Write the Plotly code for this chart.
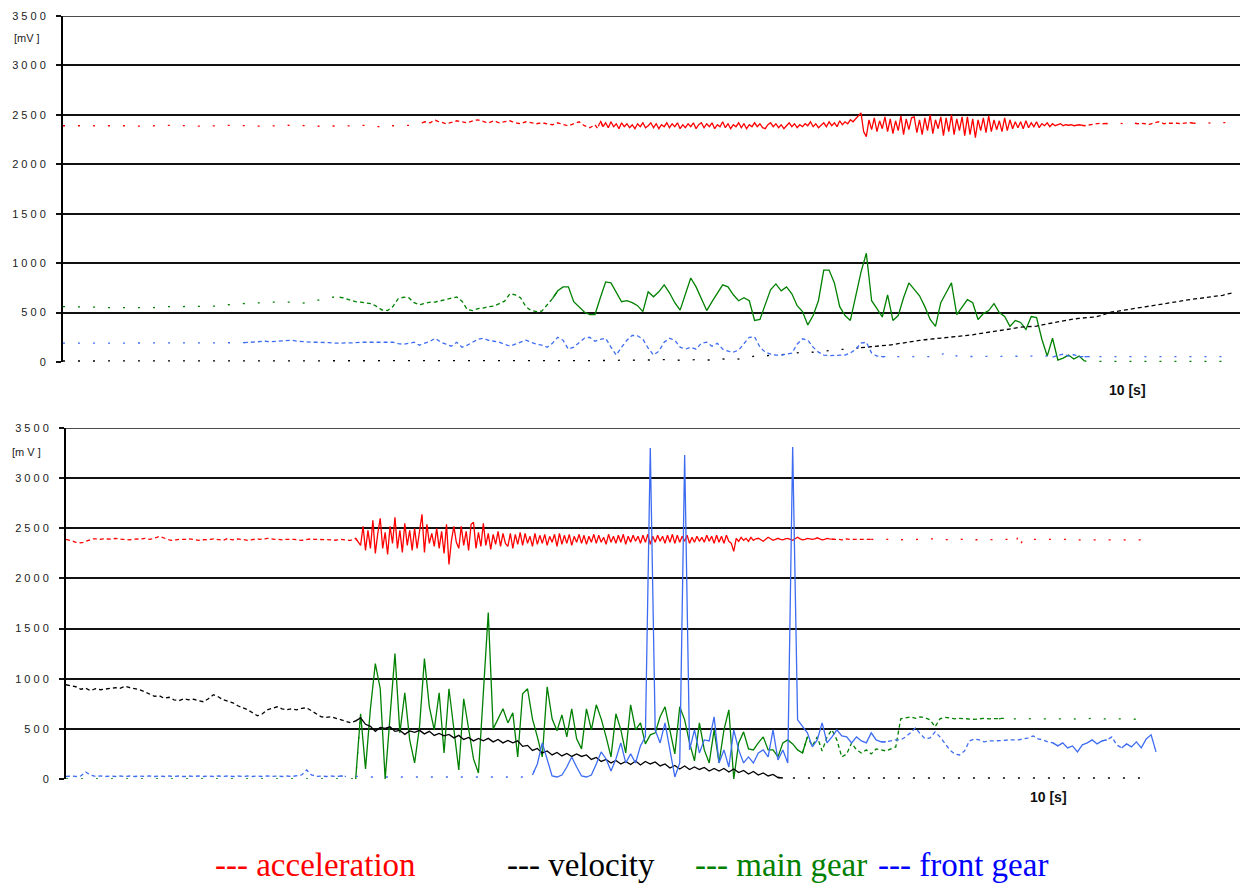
import numpy as np
import plotly.graph_objects as go

DT = 0.05         # sampling interval of the gear / velocity channels [s]
ACCEL_DT = 0.025  # sampling interval of the acceleration channel [s]

# ---------------- upper recording, signals in mV ----------------
TOP_ACCEL = [
    2390, 2390, 2390, 2390, 2395, 2390, 2390, 2390, 2390, 2390, 2385, 2390, 2390, 2390, 2390, 2390, 2390, 2390, 2395, 2390,
    2390, 2390, 2390, 2390, 2390, 2390, 2385, 2385, 2390, 2390, 2390, 2390, 2390, 2390, 2390, 2390, 2395, 2395, 2390, 2390,
    2390, 2390, 2390, 2390, 2390, 2390, 2390, 2390, 2385, 2385, 2390, 2390, 2390, 2390, 2390, 2390, 2390, 2390, 2390, 2390,
    2395, 2395, 2390, 2390, 2390, 2390, 2390, 2390, 2390, 2390, 2390, 2390, 2385, 2385, 2390, 2390, 2390, 2390, 2390, 2390,
    2390, 2390, 2390, 2390, 2395, 2395, 2390, 2390, 2390, 2390, 2390, 2390, 2390, 2390, 2390, 2390, 2385, 2385, 2390, 2390,
    2390, 2390, 2390, 2390, 2390, 2390, 2390, 2390, 2390, 2390, 2395, 2395, 2390, 2390, 2390, 2390, 2390, 2390, 2385, 2380,
    2370, 2375, 2385, 2390, 2390, 2390, 2390, 2390, 2390, 2390, 2395, 2395, 2400, 2405, 2410, 2420, 2430, 2425, 2420, 2435,
    2445, 2435, 2430, 2420, 2410, 2415, 2420, 2430, 2440, 2435, 2430, 2425, 2420, 2430, 2440, 2445, 2450, 2440, 2430, 2425,
    2420, 2430, 2440, 2430, 2420, 2425, 2430, 2435, 2440, 2430, 2420, 2415, 2410, 2420, 2430, 2425, 2420, 2415, 2410, 2415,
    2420, 2415, 2410, 2405, 2400, 2410, 2420, 2410, 2400, 2395, 2390, 2400, 2410, 2420, 2430, 2410, 2390, 2380, 2370, 2385,
    2400, 2360, 2440, 2380, 2420, 2370, 2430, 2380, 2410, 2360, 2420, 2380, 2410, 2370, 2400, 2360, 2410, 2380, 2420, 2370,
    2390, 2420, 2370, 2410, 2360, 2400, 2380, 2420, 2370, 2410, 2380, 2420, 2360, 2400, 2370, 2410, 2380, 2420, 2360, 2400,
    2420, 2370, 2410, 2380, 2420, 2360, 2400, 2380, 2430, 2370, 2410, 2360, 2400, 2380, 2420, 2370, 2410, 2360, 2400, 2380,
    2420, 2380, 2410, 2370, 2360, 2400, 2420, 2380, 2410, 2370, 2400, 2360, 2390, 2420, 2380, 2410, 2370, 2400, 2380, 2410,
    2390, 2430, 2380, 2410, 2370, 2400, 2420, 2380, 2430, 2390, 2420, 2380, 2440, 2400, 2430, 2410, 2450, 2430, 2460, 2480,
    2520, 2330, 2280, 2450, 2350, 2470, 2330, 2440, 2360, 2480, 2330, 2460, 2310, 2440, 2340, 2490, 2300, 2460, 2350, 2470,
    2480, 2320, 2450, 2300, 2470, 2340, 2500, 2310, 2450, 2360, 2480, 2290, 2470, 2330, 2500, 2300, 2460, 2340, 2480, 2290,
    2480, 2300, 2460, 2270, 2450, 2340, 2470, 2320, 2490, 2330, 2450, 2350, 2440, 2330, 2470, 2340, 2450, 2360, 2430, 2370,
    2430, 2360, 2440, 2370, 2420, 2380, 2430, 2370, 2410, 2390, 2420, 2380, 2410, 2390, 2400, 2410, 2390, 2400, 2395, 2400,
    2390, 2395, 2400, 2395, 2390, 2395, 2400, 2405, 2410, 2415, 2415, 2410, 2410, 2415, 2415, 2420, 2420, 2415, 2410, 2410,
    2415, 2420, 2420, 2415, 2410, 2415, 2415, 2410, 2400, 2410, 2420, 2425, 2430, 2420, 2410, 2415, 2415, 2420, 2420, 2415,
    2410, 2415, 2415, 2420, 2420, 2415, 2415, 2410, 2410, 2415, 2420, 2420, 2415, 2410, 2410, 2415, 2420, 2425, 2425, 2420,
    2420,
]

TOP_VELOCITY = [
    10, 10, 15, 10, 10, 10, 15, 10, 10, 10,
    10, 15, 10, 10, 10, 10, 15, 10, 10, 10,
    15, 10, 10, 10, 10, 15, 10, 10, 10, 10,
    10, 15, 10, 10, 10, 10, 10, 15, 10, 10,
    10, 10, 15, 10, 10, 10, 10, 15, 10, 10,
    10, 10, 10, 15, 10, 10, 10, 15, 10, 10,
    10, 15, 10, 10, 10, 15, 10, 10, 15, 10,
    10, 15, 10, 10, 15, 10, 10, 15, 10, 10,
    15, 10, 10, 15, 10, 10, 15, 10, 10, 15,
    10, 15, 10, 15, 10, 15, 10, 15, 10, 15,
    15, 10, 15, 20, 15, 20, 15, 20, 15, 20,
    20, 15, 20, 25, 20, 15, 20, 25, 20, 25,
    20, 20, 25, 20, 30, 25, 35, 30, 40, 45,
    60, 55, 60, 70, 65, 75, 80, 85, 95, 100,
    95, 100, 105, 110, 115, 120, 125, 130, 135, 140,
    145, 150, 150, 155, 160, 165, 175, 185, 195, 200,
    210, 218, 225, 230, 238, 242, 248, 250, 258, 262,
    268, 275, 285, 295, 302, 310, 318, 325, 335, 345,
    352, 356, 358, 362, 375, 385, 398, 405, 420, 428,
    435, 442, 448, 452, 455, 470, 490, 505, 512, 520,
    528, 540, 550, 556, 565, 572, 580, 588, 595, 605,
    615, 625, 632, 640, 645, 650, 655, 662, 675, 690,
    700,
]

TOP_MAIN_GEAR = [
    560, 560, 560, 560, 560, 560, 560, 555, 550, 550,
    550, 550, 550, 550, 550, 545, 545, 550, 555, 560,
    560, 560, 560, 560, 560, 560, 560, 560, 560, 565,
    575, 580, 585, 587, 590, 595, 597, 597, 600, 605,
    607, 607, 607, 605, 600, 595, 600, 615, 630, 640,
    650, 658, 655, 645, 625, 610, 605, 600, 590, 560,
    526, 520, 560, 640, 655, 650, 600, 580, 590, 605,
    607, 620, 635, 645, 658, 615, 530, 520, 540, 545,
    560, 565, 590, 615, 690, 680, 650, 560, 520, 510,
    515, 580, 640, 720, 760, 760, 610, 555, 505, 480,
    480, 650, 810, 800, 700, 610, 620, 600, 570, 510,
    710, 660, 710, 780, 700, 600, 525, 680, 850, 760,
    640, 520, 610, 690, 780, 760, 680, 620, 650, 620,
    420, 430, 580, 730, 790, 720, 760, 690, 570, 510,
    375, 470, 620, 930, 930, 800, 560, 470, 420, 650,
    910, 1100, 620, 540, 455, 680, 420, 470, 650, 800,
    730, 670, 560, 430, 360, 600, 700, 800, 480, 560,
    630, 600, 430, 490, 520, 590, 500, 460, 360, 420,
    400, 330, 460, 450, 230, 60, 240, 20, 40, 70,
    30, 60, 10, 5, 5, 5, 5, 5, 5, 5,
    5, 5, 5, 5, 5, 5, 5, 5, 5, 5,
    5, 5, 5, 5, 5, 5, 5, 5, 5, 5,
    5,
]

TOP_FRONT_GEAR = [
    190, 190, 190, 190, 190, 190, 190, 190, 190, 190,
    190, 190, 190, 190, 190, 190, 190, 190, 190, 190,
    190, 190, 190, 190, 190, 190, 190, 190, 190, 190,
    190, 190, 190, 190, 195, 200, 205, 205, 210, 205,
    210, 215, 220, 220, 210, 205, 205, 200, 200, 200,
    195, 190, 190, 190, 190, 195, 200, 200, 205, 200,
    200, 200, 200, 185, 180, 190, 200, 170, 190, 210,
    240, 200, 180, 160, 200, 150, 170, 200, 230, 240,
    220, 210, 200, 180, 160, 180, 200, 220, 200, 180,
    170, 150, 190, 250, 220, 130, 150, 200, 240, 250,
    210, 230, 240, 150, 70, 150, 220, 270, 265, 230,
    140, 70, 110, 200, 240, 220, 150, 130, 150, 130,
    190, 200, 160, 190, 130, 110, 100, 120, 190, 250,
    255, 150, 100, 80, 70, 70, 80, 90, 180, 235,
    220, 150, 100, 70, 65, 65, 70, 70, 90, 130,
    190, 200, 90, 60, 55, 55, 55, 55, 55, 55,
    55, 55, 55, 60, 55, 70, 100, 90, 60, 55,
    55, 55, 55, 55, 55, 55, 55, 55, 55, 55,
    55, 55, 55, 55, 55, 60, 50, 65, 80, 60,
    75, 55, 55, 55, 55, 55, 55, 55, 55, 55,
    55, 55, 55, 55, 55, 55, 55, 55, 55, 55,
    55, 55, 55, 55, 55, 55, 55, 55, 55, 55,
    55,
]

# ---------------- lower recording, signals in mV ----------------
BOT_ACCEL = [
    2390, 2385, 2380, 2370, 2360, 2355, 2355, 2360, 2370, 2380, 2390, 2395, 2395, 2390, 2390, 2395, 2395, 2390, 2390, 2390,
    2400, 2395, 2395, 2390, 2390, 2385, 2385, 2390, 2390, 2390, 2395, 2395, 2400, 2395, 2390, 2395, 2400, 2410, 2420, 2410,
    2400, 2390, 2385, 2380, 2380, 2385, 2390, 2390, 2385, 2390, 2395, 2390, 2390, 2385, 2380, 2385, 2385, 2390, 2390, 2390,
    2395, 2390, 2390, 2385, 2380, 2390, 2400, 2390, 2385, 2390, 2395, 2390, 2390, 2385, 2380, 2385, 2390, 2390, 2395, 2390,
    2390, 2395, 2400, 2395, 2395, 2390, 2390, 2385, 2385, 2390, 2390, 2395, 2395, 2390, 2385, 2380, 2380, 2385, 2390, 2390,
    2395, 2390, 2390, 2385, 2385, 2390, 2390, 2385, 2385, 2380, 2380, 2385, 2390, 2385, 2385, 2380, 2380, 2390, 2400, 2360,
    2330, 2520, 2280, 2480, 2300, 2580, 2250, 2450, 2600, 2300, 2460, 2240, 2520, 2350, 2610, 2300, 2480, 2260, 2550, 2330,
    2480, 2280, 2500, 2300, 2480, 2640, 2260, 2540, 2350, 2450, 2320, 2500, 2300, 2470, 2250, 2540, 2140, 2380, 2520, 2360,
    2300, 2520, 2330, 2470, 2280, 2540, 2560, 2300, 2460, 2320, 2550, 2330, 2450, 2290, 2440, 2340, 2470, 2320, 2450, 2350,
    2320, 2450, 2300, 2440, 2340, 2460, 2330, 2450, 2350, 2420, 2320, 2450, 2340, 2430, 2350, 2440, 2330, 2420, 2360, 2440,
    2320, 2450, 2340, 2430, 2350, 2440, 2330, 2420, 2360, 2440, 2350, 2430, 2340, 2420, 2360, 2440, 2350, 2430, 2360, 2410,
    2340, 2440, 2360, 2420, 2350, 2430, 2360, 2440, 2340, 2420, 2360, 2430, 2370, 2420, 2350, 2430, 2360, 2440, 2340, 2420,
    2360, 2430, 2370, 2420, 2350, 2430, 2360, 2440, 2350, 2430, 2360, 2420, 2370, 2430, 2350, 2410, 2360, 2420, 2370, 2410,
    2360, 2430, 2370, 2420, 2350, 2430, 2360, 2420, 2350, 2430, 2370, 2350, 2270, 2400, 2370, 2410, 2380, 2400, 2370, 2410,
    2380, 2395, 2400, 2385, 2370, 2390, 2410, 2395, 2380, 2390, 2400, 2390, 2385, 2395, 2400, 2390, 2380, 2395, 2410, 2395,
    2385, 2390, 2400, 2395, 2390, 2395, 2405, 2395, 2385, 2390, 2400, 2395, 2390, 2392, 2395, 2390, 2385, 2390, 2395, 2390,
    2390, 2390, 2385, 2385, 2390, 2390, 2385, 2385, 2390, 2390, 2390, 2390, 2385, 2385, 2390, 2390, 2395, 2395, 2385, 2385,
    2390, 2390, 2385, 2385, 2390, 2390, 2390, 2390, 2385, 2385, 2390, 2390, 2395, 2395, 2385, 2385, 2390, 2390, 2385, 2385,
    2390, 2390, 2385, 2385, 2390, 2390, 2395, 2395, 2385, 2385, 2390, 2390, 2385, 2385, 2390, 2390, 2385, 2385, 2390, 2390,
    2385, 2385, 2390, 2390, 2385, 2385, 2390, 2360, 2440, 2350, 2390, 2390, 2385, 2385, 2390, 2390, 2385, 2385, 2390, 2390,
    2390, 2390, 2385, 2385, 2390, 2390, 2385, 2385, 2390, 2390, 2395, 2395, 2385, 2385, 2390, 2390, 2385, 2385, 2390, 2390,
    2385, 2385, 2390, 2390, 2385, 2385, 2390, 2390, 2385, 2385, 2390, 2390, 2385, 2385, 2390, 2390, 2385, 2385, 2390, 2390,
    2385,
]

BOT_VELOCITY = [
    940, 930, 920, 895, 905, 880, 900, 890, 895, 900,
    910, 905, 925, 910, 900, 890, 870, 850, 825, 830,
    805, 815, 790, 780, 800, 790, 795, 780, 770, 800,
    840, 820, 790, 775, 760, 730, 710, 690, 660, 630,
    650, 690, 705, 720, 700, 690, 700, 690, 705, 710,
    680, 650, 620, 615, 620, 605, 590, 575, 560, 580,
    610, 545, 525, 475, 515, 505, 520, 475, 485, 445,
    480, 465, 485, 450, 475, 435, 455, 430, 445, 410,
    435, 395, 415, 380, 405, 380, 405, 370, 395, 360,
    385, 360, 380, 325, 335, 285, 305, 260, 280, 240,
    265, 230, 255, 225, 250, 225, 240, 195, 215, 175,
    195, 160, 185, 150, 175, 145, 180, 140, 175, 150,
    170, 130, 150, 110, 135, 100, 130, 95, 120, 95,
    115, 80, 105, 80, 105, 70, 100, 65, 85, 50,
    75, 40, 60, 30, 45, 15, 10, 10, 10, 10,
    10, 10, 10, 10, 10, 10, 10, 10, 10, 10,
    10, 10, 10, 10, 10, 10, 10, 10, 10, 10,
    10, 10, 10, 10, 10, 10, 10, 10, 10, 10,
    10, 10, 10, 10, 10, 10, 10, 10, 10, 10,
    10, 10, 10, 10, 10, 10, 10, 10, 10, 10,
    10, 10, 10, 10, 10, 10, 10, 10, 10, 10,
    10, 10, 10, 10, 10, 10, 10, 10, 10, 10,
    10,
]

BOT_MAIN_GEAR = [
    0, 0, 0, 0, 0, 0, 0, 0, 0, 0,
    0, 0, 0, 0, 0, 0, 0, 0, 0, 0,
    0, 0, 0, 0, 0, 0, 0, 0, 0, 0,
    0, 0, 0, 0, 0, 0, 0, 0, 0, 0,
    0, 0, 0, 0, 0, 0, 0, 0, 0, 0,
    0, 0, 0, 0, 0, 0, 0, 0, 0, 0,
    650, 100, 700, 1150, 900, 0, 600, 1250, 460, 860,
    390, 160, 520, 1200, 720, 490, 860, 260, 900, 490,
    90, 800, 480, 200, 60, 820, 1660, 500, 600, 700,
    560, 660, 220, 850, 900, 600, 420, 220, 920, 600,
    480, 640, 420, 700, 400, 300, 700, 490, 740, 600,
    420, 220, 650, 490, 260, 740, 490, 560, 350, 440,
    460, 620, 720, 490, 250, 720, 590, 360, 180, 560,
    290, 160, 490, 160, 490, 690, 0, 360, 470, 300,
    290, 360, 420, 290, 290, 220, 360, 390, 350, 290,
    260, 420, 330, 420, 280, 420, 490, 390, 220, 250,
    360, 290, 260, 290, 250, 300, 290, 280, 300, 320,
    600, 610, 620, 605, 620, 610, 590, 520, 600, 615,
    610, 600, 605, 600, 600, 595, 600, 605, 600, 600,
    600, 605, 600, 600, 595, 600, 600, 605, 600, 600,
    600, 600, 605, 600, 600, 600, 595, 600, 600, 605,
    600, 600, 600, 605, 600, 600, 600, 600, 595, 600,
    600,
]

BOT_FRONT_GEAR = [
    25, 30, 25, 30, 70, 40, 25, 30, 25, 30,
    25, 30, 25, 30, 25, 30, 25, 30, 25, 30,
    25, 30, 25, 30, 25, 30, 25, 30, 25, 30,
    25, 30, 25, 30, 25, 30, 25, 30, 25, 30,
    25, 30, 25, 30, 25, 30, 25, 30, 40, 90,
    40, 25, 30, 25, 30, 25, 30, 25, 30, 25,
    20, 20, 20, 20, 20, 20, 20, 20, 20, 20,
    20, 20, 20, 20, 20, 20, 20, 20, 20, 20,
    20, 20, 20, 20, 20, 20, 20, 20, 20, 20,
    20, 20, 20, 20, 20, 40, 150, 360, 200, 30,
    20, 40, 120, 220, 120, 30, 20, 40, 150, 270,
    200, 80, 200, 360, 160, 250, 160, 330, 420, 3300,
    490, 360, 560, 290, 20, 160, 3230, 290, 490, 260,
    390, 380, 620, 160, 290, 120, 490, 290, 160, 220,
    160, 260, 290, 220, 490, 190, 290, 160, 3310, 590,
    520, 460, 320, 390, 560, 360, 420, 490, 430, 420,
    360, 420, 380, 360, 460, 390, 370, 370, 380, 390,
    390, 420, 460, 510, 450, 400, 410, 470, 420, 350,
    290, 250, 240, 280, 380, 400, 390, 370, 380, 380,
    380, 385, 390, 390, 390, 400, 410, 430, 400, 390,
    370, 360, 330, 360, 310, 330, 270, 340, 360, 390,
    350, 380, 390, 420, 340, 310, 350, 320, 370, 310,
    400, 440, 270,
]

Y_TICKS = [0, 500, 1000, 1500, 2000, 2500, 3000, 3500]
TIME_MARK = 10  # seconds
LEGEND_NAMES = ["acceleration", "velocity", "main gear", "front gear"]

# ---------------- styling ----------------
W, H = 1240, 887
LINE_COLORS = {"accel": "#ff0000", "velocity": "#000000", "main": "#008000", "front": "#3d6cf2"}
LEGEND_COLORS = ["#ff0000", "#000000", "#008000", "#0000ff"]
LEGEND_LEFT_PX = [213, 505, 693, 876]

DOT, DASH, SOLID = "2px,13px", "4px,3px", "solid"

TOP_STYLE = {
    "accel": [(0, 3.36, DOT), (3.36, 5.05, DASH), (5.05, 9.56, SOLID), (9.56, 9.8, DASH),
              (9.8, 10.06, DOT), (10.06, 10.62, DASH), (10.62, 11.2, DOT)],
    "velocity": [(0, 7.49, DOT), (7.49, 11.2, DASH)],
    "main": [(0, 2.6, DOT), (2.6, 4.6, DASH), (4.6, 9.56, SOLID), (9.56, 11.2, DOT)],
    "front": [(0, 1.7, DOT), (1.7, 7.7, DASH), (7.7, 9.3, DOT), (9.3, 9.6, DASH), (9.6, 11.2, DOT)],
}
BOT_STYLE = {
    "accel": [(0, 2.95, DASH), (2.95, 7.8, SOLID), (7.8, 8.2, DASH), (8.2, 11.2, DOT)],
    "velocity": [(0, 2.95, DASH), (2.95, 7.25, SOLID), (7.25, 11.2, DOT)],
    "main": [(0, 2.95, DOT), (2.95, 7.5, SOLID), (7.5, 9.5, DASH), (9.5, 11.2, DOT)],
    "front": [(0, 2.8, DASH), (2.8, 4.75, DOT), (4.75, 8.3, SOLID), (8.3, 10.05, DASH),
              (10.05, 10.55, SOLID), (10.55, 10.73, DASH), (10.73, 11.3, SOLID)],
}

# plot areas in pixels: (left, top, bottom)
TOP_BOX = (63, 16, 362)
BOT_BOX = (66, 428, 779)
TOP_XMAX = (W - TOP_BOX[0]) / 106.4
BOT_XMAX = (W - BOT_BOX[0]) / 98.2


def py(px):
    return 1 - px / H


fig = go.Figure()


def add_series(values, key, styles, xa, ya, dt=DT):
    v = np.asarray(values, dtype=float)
    t = np.arange(len(v)) * dt
    for t0, t1, dash in styles[key]:
        mask = (t >= t0 - 1e-9) & (t <= t1 + dt + 1e-9)
        y = np.where(mask, v, np.nan)
        fig.add_trace(go.Scatter(
            x=t, y=y, mode="lines", xaxis=xa, yaxis=ya, connectgaps=False,
            line=dict(color=LINE_COLORS[key], width=1.3, dash=dash),
            hoverinfo="skip", showlegend=False))


add_series(TOP_MAIN_GEAR, "main", TOP_STYLE, "x", "y")
add_series(TOP_ACCEL, "accel", TOP_STYLE, "x", "y", ACCEL_DT)
add_series(TOP_VELOCITY, "velocity", TOP_STYLE, "x", "y")
add_series(TOP_FRONT_GEAR, "front", TOP_STYLE, "x", "y")

add_series(BOT_MAIN_GEAR, "main", BOT_STYLE, "x2", "y2")
add_series(BOT_ACCEL, "accel", BOT_STYLE, "x2", "y2", ACCEL_DT)
add_series(BOT_VELOCITY, "velocity", BOT_STYLE, "x2", "y2")
add_series(BOT_FRONT_GEAR, "front", BOT_STYLE, "x2", "y2")


def y_axis(box, anchor):
    return dict(
        domain=[py(box[2]), py(box[1])], anchor=anchor, range=[0, 3500],
        tickmode="array", tickvals=Y_TICKS,
        ticktext=[" ".join(str(v)) for v in Y_TICKS],
        showgrid=True, gridcolor="#111111", gridwidth=1.6, zeroline=False,
        showline=True, linecolor="#000000", linewidth=2,
        ticks="outside", ticklen=5, tickwidth=1.6, tickcolor="#111111",
        tickfont=dict(family="Liberation Sans", size=11, color="#222222"),
        ticklabelstandoff=8, automargin=False, fixedrange=True)


def x_axis(box, anchor, xmax):
    return dict(domain=[box[0] / W, 1], anchor=anchor, range=[0, xmax],
                showgrid=False, zeroline=False, showline=False,
                showticklabels=False, ticks="", automargin=False, fixedrange=True)


# top grid line of each panel sits on the range edge, so draw it explicitly
shapes = [
    dict(type="line", xref="paper", yref=ya, x0=box[0] / W, x1=1, y0=Y_TICKS[-1], y1=Y_TICKS[-1],
         line=dict(color="#111111", width=1.6), layer="below")
    for box, ya in [(TOP_BOX, "y"), (BOT_BOX, "y2")]
]

annotations = [
    dict(text="[mV ]", xref="paper", yref="paper", x=12 / W, y=py(38),
         xanchor="left", yanchor="middle", showarrow=False,
         font=dict(family="Liberation Sans", size=11, color="#222222")),
    dict(text="[m V ]", xref="paper", yref="paper", x=10 / W, y=py(452),
         xanchor="left", yanchor="middle", showarrow=False,
         font=dict(family="Liberation Sans", size=11, color="#222222")),
    dict(text=f"<b>{TIME_MARK} [s]</b>", xref="x", yref="paper", x=TIME_MARK, y=py(390),
         xanchor="center", yanchor="middle", showarrow=False,
         font=dict(family="Liberation Sans", size=14, color="#111111")),
    dict(text=f"<b>{TIME_MARK} [s]</b>", xref="x2", yref="paper", x=TIME_MARK, y=py(797),
         xanchor="center", yanchor="middle", showarrow=False,
         font=dict(family="Liberation Sans", size=14, color="#111111")),
]
for name, color, left in zip(LEGEND_NAMES, LEGEND_COLORS, LEGEND_LEFT_PX):
    annotations.append(dict(
        text=f"--- {name}", xref="paper", yref="paper", x=left / W, y=py(885),
        xanchor="left", yanchor="bottom", showarrow=False,
        font=dict(family="Liberation Serif", size=33, color=color)))

fig.update_layout(
    width=W, height=H, margin=dict(l=0, r=0, t=0, b=0, autoexpand=False),
    paper_bgcolor="white", plot_bgcolor="white",
    xaxis=x_axis(TOP_BOX, "y", TOP_XMAX), yaxis=y_axis(TOP_BOX, "x"),
    xaxis2=x_axis(BOT_BOX, "y2", BOT_XMAX), yaxis2=y_axis(BOT_BOX, "x2"),
    shapes=shapes, annotations=annotations, showlegend=False,
)

fig.write_html("out.html")
